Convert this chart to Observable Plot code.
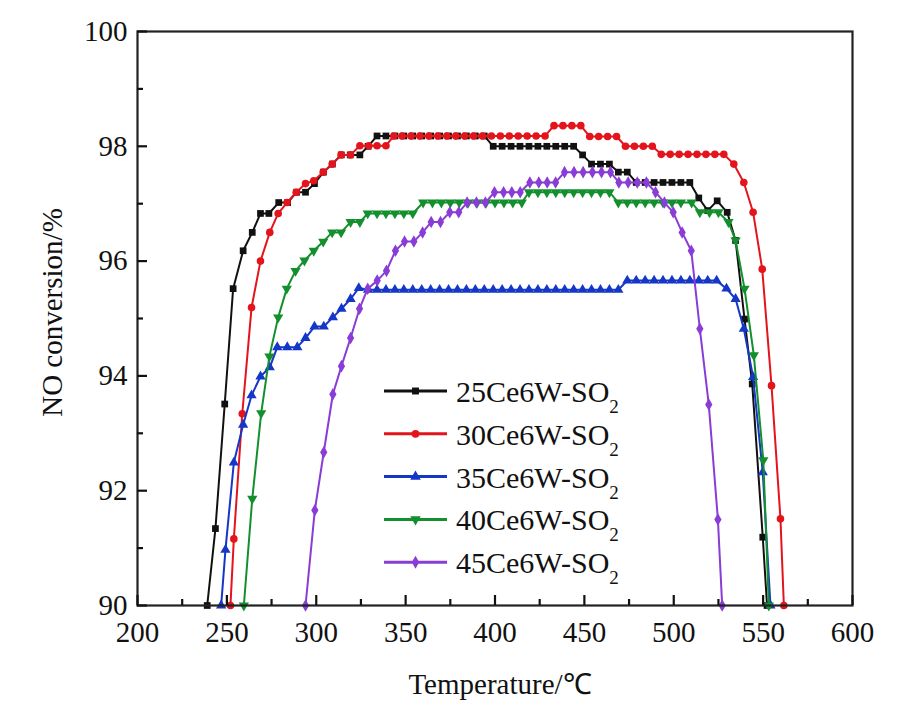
<!DOCTYPE html>
<html>
<head>
<meta charset="utf-8">
<script src="https://cdn.jsdelivr.net/npm/d3@7"></script>
<script src="https://cdn.jsdelivr.net/npm/@observablehq/plot@0.6"></script>
<style>
  html, body { margin: 0; padding: 0; background: #fff; }
  #chart { width: 909px; height: 722px; }
</style>
</head>
<body>
<div id="chart"></div>
<script>
// ---- Data ----
const seriesNames = ["25Ce6W-SO", "30Ce6W-SO", "35Ce6W-SO", "40Ce6W-SO", "45Ce6W-SO"];
const seriesColors = ["#111111", "#e3141c", "#1437c8", "#13902d", "#8a3cd6"];

const t25 = [239, 243.6, 248.8, 253.5, 259.1, 264.2, 268.8, 273.5, 279, 284, 289, 294, 299, 304, 309, 314, 319, 324.4, 329, 334, 339, 344, 349, 354, 359, 364, 369, 374, 379, 384, 389, 394, 399, 404, 409, 414, 419, 424, 429, 434, 439, 444, 449, 454, 459, 464, 469, 474, 479, 484, 489, 494, 499, 504, 509, 514, 519, 524.3, 529.9, 534.6, 539.6, 543.9, 549.8, 552.2];
const v25 = [90, 91.34, 93.51, 95.52, 96.18, 96.5, 96.83, 96.83, 97.02, 97.02, 97.2, 97.2, 97.35, 97.55, 97.69, 97.85, 97.85, 97.85, 98.0, 98.18, 98.18, 98.18, 98.18, 98.18, 98.18, 98.18, 98.18, 98.18, 98.18, 98.18, 98.18, 98.18, 98.0, 98.0, 98.0, 98.0, 98.0, 98.0, 98.0, 98.0, 98.0, 98.0, 97.85, 97.69, 97.69, 97.69, 97.55, 97.55, 97.37, 97.37, 97.37, 97.37, 97.37, 97.37, 97.37, 97.1, 96.88, 97.05, 96.85, 96.36, 94.99, 93.86, 91.19, 90];

const t30 = [252, 253.9, 258.6, 263.8, 268.8, 274, 278.7, 283.7, 288.8, 294, 298.6, 303.9, 308.9, 313.9, 319.2, 324.4, 329.4, 334, 339, 343.4, 348, 353, 358, 363, 368, 373, 378, 383, 388, 393, 398, 403, 408, 413, 418, 423, 428, 433, 438, 443, 448, 453, 458, 463, 468, 473, 478, 483, 488, 493, 498, 503, 508, 513, 518, 523, 528, 533.6, 539.2, 544.4, 549.5, 554.7, 559.7, 561.6];
const v30 = [90, 91.16, 93.34, 95.19, 96.0, 96.5, 96.83, 97.02, 97.2, 97.35, 97.4, 97.55, 97.69, 97.85, 97.85, 98.01, 98.01, 98.01, 98.01, 98.18, 98.18, 98.18, 98.18, 98.18, 98.18, 98.18, 98.18, 98.18, 98.18, 98.18, 98.18, 98.18, 98.18, 98.18, 98.18, 98.18, 98.18, 98.36, 98.36, 98.36, 98.36, 98.17, 98.17, 98.17, 98.17, 98.0, 98.0, 98.0, 98.0, 97.86, 97.86, 97.86, 97.86, 97.86, 97.86, 97.86, 97.86, 97.69, 97.37, 96.85, 95.86, 93.83, 91.51, 90];

const t35 = [246.8, 249.2, 253.9, 259.1, 263.8, 268.8, 274, 278.2, 283.8, 289.4, 294, 299, 304.2, 309.3, 314.1, 319.2, 323.8, 329, 334, 339, 344, 349, 354, 359, 364, 369, 374, 379, 384, 389, 394, 399, 404, 409, 414, 419, 424, 429, 434, 439, 444, 449, 454, 459, 464, 469, 474, 479, 484, 489, 494, 499, 504, 509, 514, 519, 524, 529.5, 534.6, 539.2, 544.4, 549.8, 554.1];
const v35 = [90, 90.97, 92.49, 93.15, 93.66, 93.99, 94.15, 94.5, 94.5, 94.5, 94.66, 94.86, 94.86, 95.02, 95.17, 95.34, 95.53, 95.5, 95.5, 95.5, 95.5, 95.5, 95.5, 95.5, 95.5, 95.5, 95.5, 95.5, 95.5, 95.5, 95.5, 95.5, 95.5, 95.5, 95.5, 95.5, 95.5, 95.5, 95.5, 95.5, 95.5, 95.5, 95.5, 95.5, 95.5, 95.5, 95.66, 95.66, 95.66, 95.66, 95.66, 95.66, 95.66, 95.66, 95.66, 95.66, 95.66, 95.52, 95.34, 94.82, 93.98, 92.32, 90];

const t40 = [259.5, 264.2, 269.2, 273.8, 278.7, 283.5, 288.4, 293.4, 298.6, 303.9, 308.9, 313.9, 319.2, 324.4, 328.8, 334, 339, 344, 349, 354, 359.8, 365, 370, 375, 380, 385, 390, 395, 400, 405, 410, 415, 419, 424, 429, 434, 439, 444, 449, 454, 459, 464, 469, 474, 479, 484, 489, 494, 499, 504, 510, 514.6, 520, 525, 530.6, 534.6, 539.6, 544.8, 550.1, 553.2];
const v40 = [90, 91.86, 93.35, 94.34, 95.02, 95.52, 95.83, 96.01, 96.18, 96.34, 96.5, 96.5, 96.68, 96.68, 96.83, 96.83, 96.83, 96.83, 96.83, 96.83, 97.02, 97.02, 97.02, 97.02, 97.02, 97.02, 97.02, 97.02, 97.02, 97.02, 97.02, 97.02, 97.2, 97.2, 97.2, 97.2, 97.2, 97.2, 97.2, 97.2, 97.2, 97.2, 97.02, 97.02, 97.02, 97.02, 97.02, 97.02, 97.02, 97.02, 97.02, 96.85, 96.85, 96.85, 96.68, 96.36, 95.52, 94.36, 92.53, 90];

const t45 = [294, 299.2, 304.2, 309.3, 314.1, 319.2, 324.2, 328.8, 334.1, 339.3, 344.3, 349.4, 354.6, 359.5, 364.3, 369.5, 374.7, 379.7, 384.4, 389.6, 394.6, 399.7, 404.8, 409.4, 414.1, 419.5, 424.5, 429.2, 433.9, 438.9, 444.2, 449.3, 454.5, 459.6, 464.6, 469.3, 474.5, 479.6, 484.7, 489.8, 494.8, 499.7, 504.7, 509.8, 514.6, 519.6, 524.7, 527.1];
const v45 = [90, 91.66, 92.67, 93.68, 94.17, 94.66, 95.17, 95.52, 95.66, 95.83, 96.18, 96.34, 96.34, 96.5, 96.68, 96.68, 96.85, 96.85, 97.02, 97.02, 97.02, 97.2, 97.2, 97.2, 97.2, 97.37, 97.37, 97.37, 97.37, 97.55, 97.55, 97.55, 97.55, 97.55, 97.55, 97.37, 97.37, 97.37, 97.37, 97.2, 97.02, 96.85, 96.5, 96.18, 94.82, 93.5, 91.5, 90];

const xMajorTicks = [200, 250, 300, 350, 400, 450, 500, 550, 600];
const xMinorTicks = [225, 275, 325, 375, 425, 475, 525, 575];
const yMajorTicks = [90, 92, 94, 96, 98, 100];
const yMinorTicks = [91, 93, 95, 97, 99];

// ---- Build table ----
const temps = [t25, t30, t35, t40, t45];
const vals = [v25, v30, v35, v40, v45];
const rows = [];
seriesNames.forEach((name, i) => {
  temps[i].forEach((t, j) => rows.push({series: name, t, v: vals[i][j]}));
});

// down-pointing triangle symbol
const triangleDown = {
  draw(context, size) {
    const y = -Math.sqrt(size / (Math.sqrt(3) * 3));
    context.moveTo(0, -y * 2);
    context.lineTo(-Math.sqrt(3) * y, y);
    context.lineTo(Math.sqrt(3) * y, y);
    context.closePath();
  }
};
const seriesSymbols = [d3.symbolSquare, d3.symbolCircle, d3.symbolTriangle, triangleDown, d3.symbolDiamond];

const font = "'Liberation Serif', 'Times New Roman', serif";

const marks = [];
seriesNames.forEach((name, i) => {
  const data = rows.filter(d => d.series === name);
  marks.push(Plot.line(data, {x: "t", y: "v", stroke: seriesColors[i], strokeWidth: 2}));
  marks.push(Plot.dot(data, {x: "t", y: "v", fill: seriesColors[i], stroke: "none", symbol: () => seriesSymbols[i], r: 3.8}));
});

const chart = Plot.plot({
  width: 909,
  height: 722,
  marginLeft: 137,
  marginRight: 57,
  marginTop: 31,
  marginBottom: 117,
  style: {fontFamily: font, fontSize: "28px", color: "#111", background: "#fff"},
  x: {domain: [200, 600]},
  y: {domain: [90, 100]},
  symbol: {type: "identity"},
  marks: [
    ...marks,
    Plot.frame({stroke: "#222", strokeWidth: 2.2}),
    Plot.axisX({ticks: xMajorTicks, tickSize: -10, strokeWidth: 2.2, text: null, label: null}),
    Plot.axisX({ticks: xMinorTicks, tickSize: -6, strokeWidth: 2.2, text: null, label: null}),
    Plot.axisX({ticks: xMajorTicks, tickSize: 0, tickPadding: 16, fontSize: 29, label: null, tickFormat: d => String(d)}),
    Plot.axisY({ticks: yMajorTicks, tickSize: -10, strokeWidth: 2.2, text: null, label: null}),
    Plot.axisY({ticks: yMinorTicks, tickSize: -6, strokeWidth: 2.2, text: null, label: null}),
    Plot.axisY({ticks: yMajorTicks, tickSize: 0, tickPadding: 10, fontSize: 29, label: null, tickFormat: d => String(d)}),
    Plot.text(["Temperature/℃"], {frameAnchor: "bottom", dx: 5, dy: 88, lineAnchor: "bottom", textAnchor: "middle", fontSize: 29, fill: "#111"}),
    Plot.text(["NO conversion/%"], {frameAnchor: "left", dx: -85, dy: -6, rotate: -90, textAnchor: "middle", lineAnchor: "middle", fontSize: 29, fill: "#111"})
  ]
});

document.getElementById("chart").appendChild(chart);

// ---- Legend (inside plot area) ----
const svg = d3.select(chart.tagName.toLowerCase() === "svg" ? chart : chart.querySelector("svg"));
const lg = svg.append("g").attr("class", "legend").attr("text-anchor", "start");
const legendX = 384, legendY0 = 391, legendStep = 42.8;
seriesNames.forEach((name, i) => {
  const y = legendY0 + i * legendStep;
  lg.append("line").attr("x1", legendX).attr("x2", legendX + 63).attr("y1", y).attr("y2", y)
    .attr("stroke", seriesColors[i]).attr("stroke-width", 3);
  lg.append("path").attr("d", d3.symbol(seriesSymbols[i], 48)())
    .attr("transform", `translate(${legendX + 31.5},${y})`).attr("fill", seriesColors[i]);
  const t = lg.append("text").attr("x", legendX + 72).attr("y", y + 11)
    .attr("text-anchor", "start")
    .attr("font-family", font).attr("font-size", 30).attr("fill", "#111");
  t.append("tspan").text(name);
  t.append("tspan").attr("font-size", 19).attr("dy", 11).text("2");
});
</script>
</body>
</html>
